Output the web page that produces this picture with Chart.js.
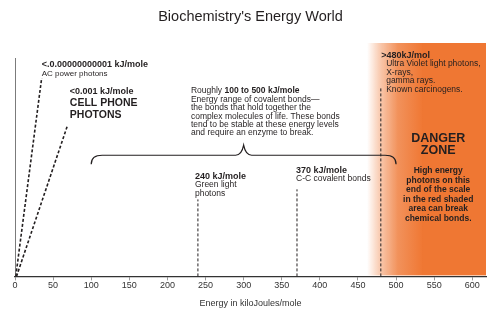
<!DOCTYPE html>
<html>
<head>
<meta charset="utf-8">
<title>Biochemistry's Energy World</title>
<script src="https://cdn.jsdelivr.net/npm/chart.js@4.4.1/dist/chart.umd.min.js"></script>
<style>
  html, body { margin: 0; padding: 0; background: #fff; }
  #wrap { width: 500px; height: 321px; }
</style>
</head>
<body>
<div id="wrap"><canvas id="energyChart" width="500" height="321"></canvas></div>
<script>
// Energy scale in kJ/mole
const xTickValues = [0, 50, 100, 150, 200, 250, 300, 350, 400, 450, 500, 550, 600];
const xMax = 618;

// vertical dashed markers: energy and how high the line reaches (0-100 of plot height)
const markerEnergies = [240, 370, 480];
const markerHeights = [33, 37.3, 80.6];

// slanted dashed lines for the very low energy photons
const lowPhotonNames = ['AC power photons', 'Cell phone photons'];
const lowPhotonBase = [1, 2];
const lowPhotonTipX = [35, 69];
const lowPhotonTipY = [85, 64.8];

// brace over the covalent bond range: start, middle, end
const bondRange = [100, 300, 500];

// shaded danger zone, fading in from dangerStart to dangerFull
const dangerStart = 462;
const dangerFull = 535;

const FONT = '"Liberation Sans", Arial, sans-serif';
const INK = '#231f20';

// text notes, anchored in data units (x = kJ/mole, y = 0-100 of plot height)
const notes = [
    { x: 35.1, y: 90.6, lh: 8.7, lines: [
        [['bold 9px', '<.0.00000000001 kJ/mole']],
        [['8px', 'AC power photons']]
    ]},
    { x: 71.9, y: 79.0, lh: 12, lines: [
        [['bold 9px', '<0.001 kJ/mole']]
    ]},
    { x: 71.9, y: 74.2, lh: 12, lines: [
        [['bold 10.5px', 'CELL PHONE']],
        [['bold 10.5px', 'PHOTONS']]
    ]},
    { x: 230.8, y: 79.4, lh: 8.4, lines: [
        [['8.5px', 'Roughly '], ['bold 8.5px', '100 to 500 kJ/mole']],
        [['8.5px', 'Energy range of covalent bonds\u2014']],
        [['8.5px', 'the bonds that hold together the']],
        [['8.5px', 'complex molecules of life. These bonds']],
        [['8.5px', 'tend to be stable at these energy levels']],
        [['8.5px', 'and require an enzyme to break.']]
    ]},
    { x: 480.4, y: 94.8, lh: 8.9, lines: [
        [['bold 9px', '>480kJ/mol']]
    ]},
    { x: 487, y: 91.3, lh: 8.9, lines: [
        [['8.5px', 'Ultra Violet light photons,']],
        [['8.5px', 'X-rays,']],
        [['8.5px', 'gamma rays.']],
        [['8.5px', 'Known carcinogens.']]
    ]},
    { x: 555.3, y: 59.2, lh: 12, align: 'center', lines: [
        [['bold 12.5px', 'DANGER']],
        [['bold 12.5px', 'ZONE']]
    ]},
    { x: 555.3, y: 45.2, lh: 9.5, align: 'center', lines: [
        [['bold 8.5px', 'High energy']],
        [['bold 8.5px', 'photons on this']],
        [['bold 8.5px', 'end of the scale']],
        [['bold 8.5px', 'in the red shaded']],
        [['bold 8.5px', 'area can break']],
        [['bold 8.5px', 'chemical bonds.']]
    ]},
    { x: 236.1, y: 42.9, lh: 8.5, lines: [
        [['bold 9px', '240 kJ/mole']],
        [['8.5px', 'Green light']],
        [['8.5px', 'photons']]
    ]},
    { x: 368.7, y: 45.5, lh: 8, lines: [
        [['bold 9px', '370 kJ/mole']],
        [['8.5px', 'C-C covalent bonds']]
    ]}
];

// orange danger zone behind the marks
const dangerPlugin = {
    id: 'dangerZone',
    beforeDatasetsDraw(chart) {
        const { ctx, chartArea: a, scales: { x } } = chart;
        const x0 = x.getPixelForValue(dangerStart);
        const x1 = x.getPixelForValue(dangerFull);
        const g = ctx.createLinearGradient(x0, 0, x1, 0);
        g.addColorStop(0, 'rgba(239,119,51,0)');
        g.addColorStop(0.25, 'rgba(239,119,51,0.42)');
        g.addColorStop(0.55, 'rgba(239,119,51,0.8)');
        g.addColorStop(1, 'rgba(239,119,51,1)');
        ctx.save();
        ctx.fillStyle = g;
        ctx.fillRect(x0, a.top, a.right - x0, a.bottom - a.top - 1);
        ctx.restore();
    }
};

// curly brace over the covalent bond range
const bracePlugin = {
    id: 'bondBrace',
    afterDatasetsDraw(chart) {
        const { ctx, scales: { x, y } } = chart;
        const xl = x.getPixelForValue(bondRange[0]);
        const xm = x.getPixelForValue(bondRange[1]);
        const xr = x.getPixelForValue(bondRange[2]);
        const yl = y.getPixelForValue(51.9);
        const yp = y.getPixelForValue(56.2);
        const ye = y.getPixelForValue(48.1);
        ctx.save();
        ctx.strokeStyle = INK;
        ctx.lineWidth = 1.2;
        ctx.beginPath();
        ctx.moveTo(xl, ye);
        ctx.quadraticCurveTo(xl, yl, xl + 11, yl);
        ctx.lineTo(xm - 8, yl);
        ctx.quadraticCurveTo(xm - 2, yl, xm, yp);
        ctx.quadraticCurveTo(xm + 2, yl, xm + 8, yl);
        ctx.lineTo(xr - 11, yl);
        ctx.quadraticCurveTo(xr, yl, xr, ye);
        ctx.stroke();
        ctx.restore();
    }
};

// all the text labels
const notesPlugin = {
    id: 'notes',
    afterDatasetsDraw(chart) {
        const { ctx, scales: { x, y } } = chart;
        ctx.save();
        ctx.fillStyle = INK;
        ctx.textBaseline = 'middle';
        ctx.textAlign = 'left';
        notes.forEach(n => {
            const px = x.getPixelForValue(n.x);
            let py = y.getPixelForValue(n.y);
            n.lines.forEach(line => {
                const segs = line.map(([f, t]) => {
                    ctx.font = f + ' ' + FONT;
                    return { f, t, w: ctx.measureText(t).width };
                });
                const total = segs.reduce((s, g) => s + g.w, 0);
                let cx = n.align === 'center' ? px - total / 2 : px;
                segs.forEach(g => {
                    ctx.font = g.f + ' ' + FONT;
                    ctx.fillText(g.t, cx, py);
                    cx += g.w;
                });
                py += n.lh;
            });
        });
        ctx.restore();
    }
};

const dashed = { borderColor: INK, borderWidth: 1, borderDash: [3, 2], pointRadius: 0, showLine: true, fill: false };

const datasets = [
    // left axis line
    { label: 'axis', data: [{ x: 0, y: 0 }, { x: 0, y: 93.6 }], borderColor: '#333', borderWidth: 1.3, pointRadius: 0, showLine: true }
];
lowPhotonNames.forEach((name, i) => {
    datasets.push(Object.assign({}, dashed, {
        label: name,
        borderWidth: 1.6,
        data: [{ x: lowPhotonBase[i], y: 0 }, { x: lowPhotonTipX[i], y: lowPhotonTipY[i] }]
    }));
});
markerEnergies.forEach((e, i) => {
    datasets.push(Object.assign({}, dashed, {
        label: e + ' kJ/mole',
        data: [{ x: e, y: 0 }, { x: e, y: markerHeights[i] }]
    }));
});

new Chart(document.getElementById('energyChart'), {
    type: 'scatter',
    data: { datasets: datasets },
    options: {
        responsive: false,
        animation: false,
        devicePixelRatio: 1,
        layout: { padding: { left: 15, right: 14, top: 0, bottom: 8 } },
        plugins: {
            legend: { display: false },
            tooltip: { enabled: false },
            title: {
                display: true,
                text: "Biochemistry's Energy World",
                color: INK,
                font: { family: FONT, size: 14.5, weight: 'normal' },
                padding: { top: 8, bottom: 17.6 }
            }
        },
        scales: {
            x: {
                type: 'linear',
                min: 0,
                max: xMax,
                afterBuildTicks: scale => { scale.ticks = xTickValues.map(v => ({ value: v })); },
                ticks: { color: '#333', font: { family: FONT, size: 9 }, padding: 0, maxRotation: 0, autoSkip: false },
                grid: { drawOnChartArea: false, drawTicks: true, tickLength: 4, tickColor: '#999' },
                border: { color: '#333', width: 1.3 },
                title: {
                    display: true,
                    text: 'Energy in kiloJoules/mole',
                    color: '#333',
                    font: { family: FONT, size: 9 },
                    padding: { top: 7, bottom: 4 }
                }
            },
            y: { display: false, min: 0, max: 100 }
        }
    },
    plugins: [dangerPlugin, bracePlugin, notesPlugin]
});
</script>
</body>
</html>
